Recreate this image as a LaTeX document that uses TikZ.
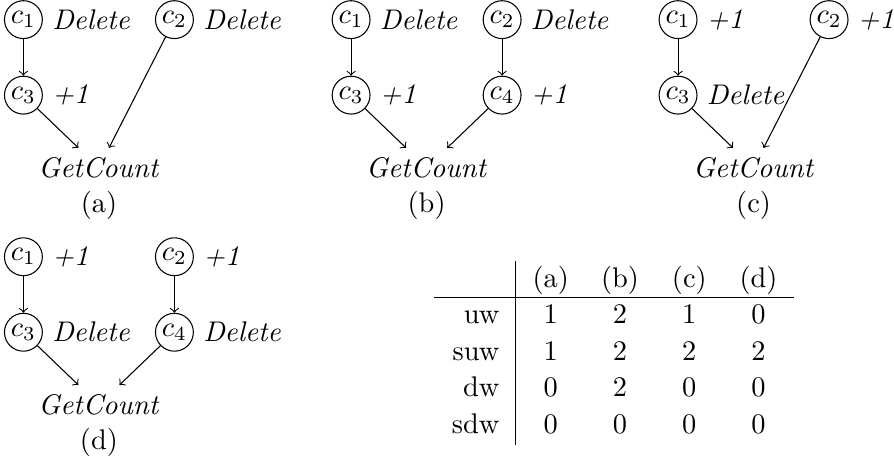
\RequirePackage{fix-cm}
\documentclass[tikz,border=0pt]{standalone}
\usetikzlibrary{matrix, positioning}
\tikzset{cnode/.style={circle, draw, inner sep=1.1pt},
         subcap/.style={inner sep=0.3333em}}

\begin{document}
\begin{tikzpicture}[font=\fontsize{10.7}{12.9}\selectfont]
    \useasboundingbox (0,0) rectangle (11.84,-6.11);
    % (a)
    \begin{scope}[shift={(0.31,-0.26)}]
      \node[cnode] (A1) at (0,0) {$c_1$};
      \node[cnode] (A2) at (2,0) {$c_2$};
      \node[cnode] (A3) at (0,-1) {$c_3$};
      \node (AG) at (1,-1.96) {\textit{GetCount}};
      \node[right=0pt of A1] (A1o) {\textit{Delete}};
      \node[right=0pt of A2] (A2o) {\textit{Delete}};
      \node[right=0pt of A3] (A3o) {\textit{+1}};
      \node[subcap, below=-2pt of AG] (AC) {(a)};
    \end{scope}
    % (b)
    \begin{scope}[shift={(4.65,-0.26)}]
      \node[cnode] (B1) at (0,0) {$c_1$};
      \node[cnode] (B2) at (2,0) {$c_2$};
      \node[cnode] (B3) at (0,-1) {$c_3$};
      \node[cnode] (B4) at (2,-1) {$c_4$};
      \node (BG) at (1,-1.96) {\textit{GetCount}};
      \node[right=0pt of B1] (B1o) {\textit{Delete}};
      \node[right=0pt of B2] (B2o) {\textit{Delete}};
      \node[right=0pt of B3] (B3o) {\textit{+1}};
      \node[right=0pt of B4] (B4o) {\textit{+1}};
      \node[subcap, below=-2pt of BG] (BC) {(b)};
    \end{scope}
    % (c)
    \begin{scope}[shift={(8.98,-0.26)}]
      \node[cnode] (C1) at (0,0) {$c_1$};
      \node[cnode] (C2) at (2,0) {$c_2$};
      \node[cnode] (C3) at (0,-1) {$c_3$};
      \node (CG) at (1,-1.96) {\textit{GetCount}};
      \node[right=0pt of C1] (C1o) {\textit{+1}};
      \node[right=0pt of C2] (C2o) {\textit{+1}};
      \node[right=0pt of C3] (C3o) {\textit{Delete}};
      \node[subcap, below=-2pt of CG] (CC) {(c)};
    \end{scope}
    % (d)
    \begin{scope}[shift={(0.31,-3.40)}]
      \node[cnode] (D1) at (0,0) {$c_1$};
      \node[cnode] (D2) at (2,0) {$c_2$};
      \node[cnode] (D3) at (0,-1) {$c_3$};
      \node[cnode] (D4) at (2,-1) {$c_4$};
      \node (DG) at (1,-1.96) {\textit{GetCount}};
      \node[right=0pt of D1] (D1o) {\textit{+1}};
      \node[right=0pt of D2] (D2o) {\textit{+1}};
      \node[right=0pt of D3] (D3o) {\textit{Delete}};
      \node[right=0pt of D4] (D4o) {\textit{Delete}};
      \node[subcap, below=-2pt of DG] (DC) {(d)};
    \end{scope}
    \begin{scope}[every edge/.style={draw=black}]
      \path [->] (A1) edge (A3);
      \path [->] (A3) edge (AG);
      \path [->] (A2) edge (AG);
      \path [->] (B1) edge (B3);
      \path [->] (B2) edge (B4);
      \path [->] (B3) edge (BG);
      \path [->] (B4) edge (BG);
      \path [->] (C1) edge (C3);
      \path [->] (C3) edge (CG);
      \path [->] (C2) edge (CG);
      \path [->] (D1) edge (D3);
      \path [->] (D2) edge (D4);
      \path [->] (D3) edge (DG);
      \path [->] (D4) edge (DG);
    \end{scope}
    % table
    \matrix (tab) [matrix of nodes, anchor=north west, inner sep=0pt,
                   row sep=0pt, column sep=0pt,
                   nodes={inner sep=0pt, text height=9.6pt, text depth=4.15pt,
                          minimum width=26.1pt},
                   column 1/.style={nodes={text width=18pt, align=right,
                          inner xsep=6.35pt, minimum width=0pt}}]
      at (5.75,-3.457) {
          & (a) & (b) & (c) & (d) \\
      uw  & 1   & 2   & 1   & 0   \\
      suw & 1   & 2   & 2   & 2   \\
      dw  & 0   & 2   & 0   & 0   \\
      sdw & 0   & 0   & 0   & 0   \\
    };
    \draw (tab-1-2.north west) -- (tab-5-2.south west);
    \draw (tab-2-1.north west) -- (tab-2-5.north east);
  \end{tikzpicture}
\end{document}
